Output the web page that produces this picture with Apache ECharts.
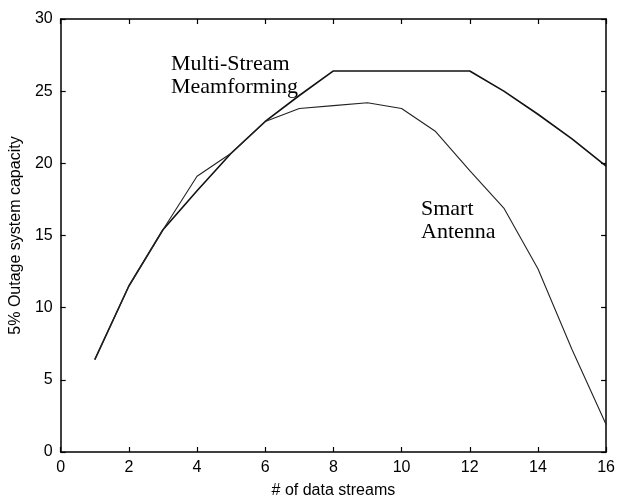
<!DOCTYPE html>
<html>
<head>
<meta charset="utf-8">
<script src="https://cdn.jsdelivr.net/npm/echarts@6/dist/echarts.min.js"></script>
<style>
html,body{margin:0;padding:0;background:#fff;}
#chart{width:618px;height:504px;}
</style>
</head>
<body>
<div id="chart"></div>
<script>
// ---- data ----
var streams = [1,2,3,4,5,6,7,8,9,10,11,12,13,14,15,16];
var multiStream = [6.4,11.5,15.4,18.1,20.7,22.9,24.7,26.4,26.4,26.4,26.4,26.4,25.0,23.4,21.7,19.8];
var smartAntenna = [6.4,11.5,15.4,19.1,20.7,22.9,23.8,24.0,24.2,23.8,22.2,19.5,16.9,12.7,7.1,1.9];
var xTicks = [0,2,4,6,8,10,12,14,16];
var yTicks = [0,5,10,15,20,25,30];
var xTitle = '# of data streams';
var yTitle = '5% Outage system capacity';
var labelMulti = ['Multi-Stream','Meamforming'];
var labelSmart = ['Smart','Antenna'];

function pairs(xs, ys){ return xs.map(function(x,i){ return [x, ys[i]]; }); }

var axisLine = {show:true, onZero:false, lineStyle:{color:'#000', width:1.5}};
var tickIn = {show:true, inside:true, length:5, lineStyle:{color:'#000', width:1.2}};
var tickFont = {color:'#000', fontFamily:'Liberation Sans, Arial, sans-serif', fontSize:16};

var chart = echarts.init(document.getElementById('chart'), null, {renderer:'canvas'});
chart.setOption({
  backgroundColor:'#fff',
  animation:false,
  grid:{left:56, right:8, top:19, bottom:47, containLabel:false},
  xAxis:[{
    type:'value', min:xTicks[0], max:xTicks[xTicks.length-1], interval:2,
    position:'bottom',
    axisLine:axisLine, axisTick:tickIn, splitLine:{show:false},
    axisLabel:Object.assign({margin:8}, tickFont),
    name:xTitle, nameLocation:'middle', nameGap:31,
    nameTextStyle:{color:'#000', fontFamily:'Liberation Sans, Arial, sans-serif', fontSize:16}
  },{
    type:'value', min:xTicks[0], max:xTicks[xTicks.length-1], interval:2,
    position:'top',
    axisLine:axisLine, axisTick:tickIn, splitLine:{show:false},
    axisLabel:{show:false}
  }],
  yAxis:[{
    type:'value', min:yTicks[0], max:yTicks[yTicks.length-1], interval:5,
    position:'left',
    axisLine:axisLine, axisTick:tickIn, splitLine:{show:false},
    axisLabel:Object.assign({margin:8}, tickFont),
    name:yTitle, nameLocation:'middle', nameGap:33,
    nameTextStyle:{color:'#000', fontFamily:'Liberation Sans, Arial, sans-serif', fontSize:16}
  },{
    type:'value', min:yTicks[0], max:yTicks[yTicks.length-1], interval:5,
    position:'right',
    axisLine:axisLine, axisTick:tickIn, splitLine:{show:false},
    axisLabel:{show:false}
  }],
  series:[{
    name:'Multi-Stream Beamforming', type:'line', data:pairs(streams, multiStream),
    showSymbol:false, symbol:'none',
    lineStyle:{color:'#111', width:1.6}
  },{
    name:'Smart Antenna', type:'line', data:pairs(streams, smartAntenna),
    showSymbol:false, symbol:'none',
    lineStyle:{color:'#222', width:1.1}
  }],
  graphic:[
    {type:'text', x:171, y:64, style:{text:labelMulti[0], fill:'#000', font:'22px "Liberation Serif", "Times New Roman", serif', verticalAlign:'middle'}},
    {type:'text', x:171, y:87, style:{text:labelMulti[1], fill:'#000', font:'22px "Liberation Serif", "Times New Roman", serif', verticalAlign:'middle'}},
    {type:'text', x:421, y:209, style:{text:labelSmart[0], fill:'#000', font:'22px "Liberation Serif", "Times New Roman", serif', verticalAlign:'middle'}},
    {type:'text', x:421, y:232, style:{text:labelSmart[1], fill:'#000', font:'22px "Liberation Serif", "Times New Roman", serif', verticalAlign:'middle'}}
  ]
});
</script>
</body>
</html>
